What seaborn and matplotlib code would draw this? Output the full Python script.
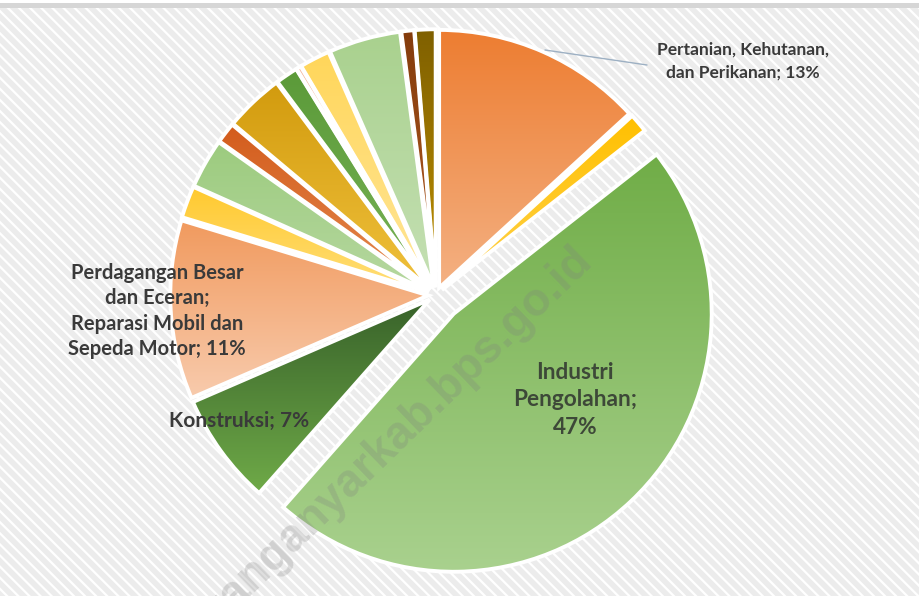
import numpy as np
import matplotlib
matplotlib.use("Agg")
import matplotlib.pyplot as plt
from matplotlib.patches import Rectangle
import seaborn as sns

##  Data: share of each sector (percent), clockwise from 12 o'clock
sektor = ["Pertanian, Kehutanan, dan Perikanan", "Pertambangan dan Penggalian",
          "Industri Pengolahan", "Konstruksi",
          "Perdagangan Besar dan Eceran; Reparasi Mobil dan Sepeda Motor",
          "Transportasi dan Pergudangan", "Penyediaan Akomodasi dan Makan Minum",
          "Informasi dan Komunikasi", "Jasa Keuangan dan Asuransi", "Real Estate",
          "Jasa Perusahaan", "Administrasi Pemerintahan", "Jasa Pendidikan",
          "Jasa Kesehatan dan Kegiatan Sosial", "Jasa Lainnya"]
persen = [13.2, 1.2, 47.1, 7.0, 11.2, 2.0, 3.1, 1.3, 3.7, 1.4, 0.3, 1.9, 4.5, 0.8, 1.3]

#  Only four slices carry a label
label_teks = ["Pertanian, Kehutanan,\ndan Perikanan; 13%", "", "Industri\nPengolahan;\n47%",
              "Konstruksi; 7%", "Perdagangan Besar\ndan Eceran;\nReparasi Mobil dan\nSepeda Motor; 11%",
              "", "", "", "", "", "", "", "", "", ""]

#  Gradient colours (top -> bottom) per slice
warna_atas = ["#ED7D31", "#FFC000", "#70AD47", "#38622A", "#F19A5E", "#FFC92E", "#9CCB7E",
              "#D35C1C", "#D29B0E", "#5B9A39", "#F4B8A0", "#FFD65A", "#A9D18E", "#843C0C", "#7F6000"]
warna_bawah = ["#F4B183", "#FFD24D", "#A9D18E", "#6FAA48", "#F8CBAD", "#FFDF7A", "#B6D8A0",
               "#E58A50", "#F0C13C", "#78B356", "#F8CBAD", "#FFE699", "#C5E0B4", "#B25A22", "#BF9000"]

##  Figure in pixel units
W, H = 920, 596
R = 258
sns.set_theme(style="white")
plt.rcParams["font.family"] = ["Lato", "DejaVu Sans"]
plt.rcParams["hatch.linewidth"] = 1.6

fig = plt.figure(figsize=(W / 100, H / 100), dpi=100)
ax = fig.add_axes([0, 0, 1, 1])

#  Hatched light-gray background
ax.add_patch(Rectangle((0, 0), W, H, facecolor="#ECECEC", edgecolor="white",
                       hatch="\\\\\\", linewidth=0, zorder=0))
ax.add_patch(Rectangle((0, H - 8), W, 5, facecolor="#D6D6D6", linewidth=0, zorder=0.5))
ax.add_patch(Rectangle((0, H - 3), W, 3, facecolor="white", linewidth=0, zorder=0.5))

##  Pie (explode is in data units, i.e. pixels here)
explode = [0.1 * R if s == "Industri Pengolahan" else 0.03 * R for s in sektor]
wedges, _ = ax.pie(persen, explode=explode, startangle=90, counterclock=False,
                   center=(436, H - 295), radius=R, frame=True,
                   wedgeprops=dict(edgecolor="white", linewidth=2.8, facecolor="none", zorder=3))

#  Gradient fill clipped to each wedge
grad = np.linspace(0, 1, 256).reshape(-1, 1)
for w, c1, c2 in zip(wedges, warna_atas, warna_bawah):
    b = w.get_path().get_extents()
    cmap = sns.blend_palette([c1, c2], as_cmap=True)
    im = ax.imshow(grad, cmap=cmap, extent=(b.x0, b.x1, b.y0, b.y1),
                   origin="upper", aspect="auto", zorder=2)
    im.set_clip_path(w)

##  Labels
teks_kw = dict(ha="center", va="center", fontweight="bold", color="#3A3A3A", zorder=4)
ax.text(743, H - 61, label_teks[0], fontsize=12.5, linespacing=1.5, **teks_kw)
ax.plot([545, 647], [H - 50, H - 65], color="#9DB0C3", lw=1, zorder=4)
ax.text(157, H - 311, label_teks[4], fontsize=14.5, linespacing=1.35, **teks_kw)
ax.text(239, H - 421, label_teks[3], fontsize=15, **teks_kw)
teks_kw["color"] = "#3D4838"
ax.text(575, H - 400, label_teks[2], fontsize=16.3, linespacing=1.4, **teks_kw)

#  Watermark
ax.text(594, H - 262, "karanganyarkab.bps.go.id", rotation=44, rotation_mode="anchor",
        ha="right", va="baseline", fontsize=33, fontweight="bold",
        family="Liberation Sans", color="#7F7F7F", alpha=0.26, zorder=5)

ax.set_xlim(0, W)
ax.set_ylim(0, H)
ax.set_aspect("auto")
ax.axis("off")

plt.savefig("out.png", dpi=100)
